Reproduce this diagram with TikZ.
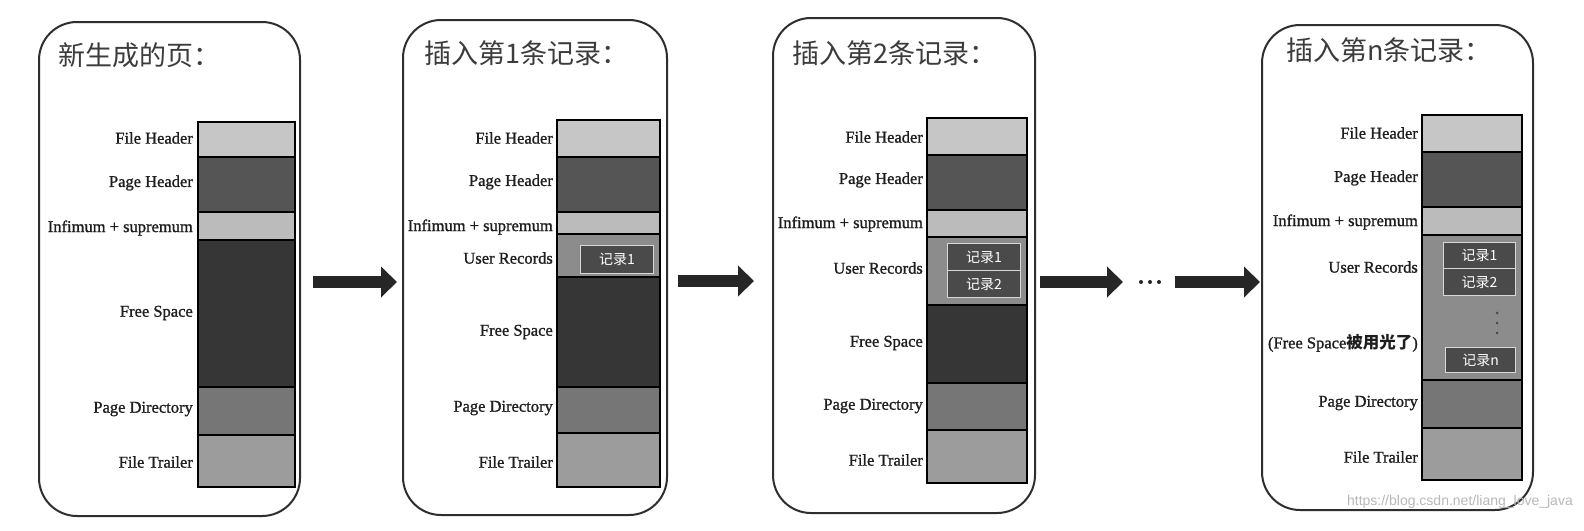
\documentclass[tikz,border=0pt]{standalone}
\usepackage{fontspec}
\setmainfont{Liberation Serif}
\newfontfamily\labfont[FakeBold=1.2]{Liberation Serif}
\newfontfamily\cjk{Noto Sans CJK SC}
\newfontfamily\wmfont{Liberation Sans}
\usetikzlibrary{arrows.meta}
\definecolor{fhc}{HTML}{C6C6C6}
\definecolor{phc}{HTML}{555555}
\definecolor{infc}{HTML}{BBBBBB}
\definecolor{freec}{HTML}{363636}
\definecolor{urc}{HTML}{8C8C8C}
\definecolor{pdc}{HTML}{767676}
\definecolor{ftc}{HTML}{9C9C9C}
\definecolor{recf}{HTML}{4A4A4A}
\definecolor{recb}{HTML}{D8D8D8}
\definecolor{panelc}{HTML}{2E2E2E}
\definecolor{labc}{HTML}{1E1E1E}
\definecolor{ttlc}{HTML}{3C3C3C}
\definecolor{arrc}{HTML}{262626}
\begin{document}
\begin{tikzpicture}[x=1pt,y=-1pt,
  panel/.style={draw=panelc, line width=2pt, rounded corners=38pt},
  sect/.style={draw=black, line width=1.6pt},
  lab/.style={anchor=east, inner sep=0pt, text=labc, font=\labfont\fontsize{16.5}{18}\selectfont},
  ttl/.style={anchor=west, inner sep=0pt, text=ttlc, font=\cjk\fontsize{27}{30}\selectfont},
  rec/.style={draw=recb, line width=1.2pt, fill=recf, text=white, font=\cjk\fontsize{14}{16}\selectfont, inner sep=0pt, anchor=north west},
  bigarrow/.style={draw=arrc, line width=12pt, -{Triangle[length=16pt,width=30pt]}},
  dotc/.style={fill=recf, draw=none}]
\useasboundingbox (0,0) rectangle (1584,530);
\fill[white] (0,0) rectangle (1584,530);

% ---------- Panel 1 ----------
\draw[panel] (39,22) rectangle (300,516);
\node[ttl] (t1) at (58,55) {新生成的页：};
\draw[sect, fill=fhc]   (198,122) rectangle (295,157);
\draw[sect, fill=phc]   (198,157) rectangle (295,212);
\draw[sect, fill=infc]  (198,212) rectangle (295,240);
\draw[sect, fill=freec] (198,240) rectangle (295,387);
\draw[sect, fill=pdc]   (198,387) rectangle (295,435);
\draw[sect, fill=ftc]   (198,435) rectangle (295,487);
\node[lab] (l1a) at (193,138) {File Header};
\node[lab] (l1b) at (193,183) {Page Header};
\node[lab] (l1c) at (193,228) {Infimum + supremum};
\node[lab] (l1d) at (193,313) {Free Space};
\node[lab] (l1e) at (193,409) {Page Directory};
\node[lab] (l1f) at (193,462) {File Trailer};

% ---------- Panel 2 ----------
\draw[panel] (403,20) rectangle (667,515);
\node[ttl] (t2) at (424,53) {插入第1条记录：};
\draw[sect, fill=fhc]   (557,120) rectangle (660,157);
\draw[sect, fill=phc]   (557,157) rectangle (660,212);
\draw[sect, fill=infc]  (557,212) rectangle (660,234);
\draw[sect, fill=urc]   (557,234) rectangle (660,277);
\draw[sect, fill=freec] (557,277) rectangle (660,387);
\draw[sect, fill=pdc]   (557,387) rectangle (660,433);
\draw[sect, fill=ftc]   (557,433) rectangle (660,487);
\node[rec, minimum width=73pt, minimum height=28pt] (r21) at (580,245) {记录1};
\node[lab] (l2a) at (553,138) {File Header};
\node[lab] (l2b) at (553,182) {Page Header};
\node[lab] (l2c) at (553,227) {Infimum + supremum};
\node[lab] (l2u) at (553,258) {User Records};
\node[lab] (l2d) at (553,332) {Free Space};
\node[lab] (l2e) at (553,408) {Page Directory};
\node[lab] (l2f) at (553,462) {File Trailer};

% ---------- Panel 3 ----------
\draw[panel] (773,18) rectangle (1035,513);
\node[ttl] (t3) at (792,53) {插入第2条记录：};
\draw[sect, fill=fhc]   (927,118) rectangle (1027,155);
\draw[sect, fill=phc]   (927,155) rectangle (1027,210);
\draw[sect, fill=infc]  (927,210) rectangle (1027,237);
\draw[sect, fill=urc]   (927,237) rectangle (1027,305);
\draw[sect, fill=freec] (927,305) rectangle (1027,383);
\draw[sect, fill=pdc]   (927,383) rectangle (1027,430);
\draw[sect, fill=ftc]   (927,430) rectangle (1027,483);
\node[rec, minimum width=73pt, minimum height=27pt] (r31) at (947,243) {记录1};
\node[rec, minimum width=73pt, minimum height=27pt] (r32) at (947,270) {记录2};
\node[lab] (l3a) at (923,137) {File Header};
\node[lab] (l3b) at (923,180) {Page Header};
\node[lab] (l3c) at (923,224) {Infimum + supremum};
\node[lab] (l3u) at (923,268) {User Records};
\node[lab] (l3d) at (923,343) {Free Space};
\node[lab] (l3e) at (923,406) {Page Directory};
\node[lab] (l3f) at (923,460) {File Trailer};

% ---------- Panel 4 ----------
\draw[panel] (1262,25) rectangle (1533,510);
\node[ttl] (t4) at (1286,50) {插入第n条记录：};
\draw[sect, fill=fhc]   (1422,115) rectangle (1522,152);
\draw[sect, fill=phc]   (1422,152) rectangle (1522,207);
\draw[sect, fill=infc]  (1422,207) rectangle (1522,235);
\draw[sect, fill=urc]   (1422,235) rectangle (1522,380);
\draw[sect, fill=pdc]   (1422,380) rectangle (1522,428);
\draw[sect, fill=ftc]   (1422,428) rectangle (1522,480);
\node[rec, minimum width=72pt, minimum height=26pt] (r41) at (1443,242) {记录1};
\node[rec, minimum width=72pt, minimum height=27pt] (r42) at (1443,268) {记录2};
\fill[dotc] (1497,313) circle (1.5);
\fill[dotc] (1497,323) circle (1.5);
\fill[dotc] (1497,333) circle (1.5);
\node[rec, minimum width=70pt, minimum height=25pt] (r4n) at (1445,347) {记录n};
\node[lab] (l4a) at (1418,133) {File Header};
\node[lab] (l4b) at (1418,178) {Page Header};
\node[lab] (l4c) at (1418,222) {Infimum + supremum};
\node[lab] (l4u) at (1418,267) {User Records};
\node[lab] (l4d) at (1418,343) {(Free Space{\cjk\bfseries 被用光了})};
\node[lab] (l4e) at (1418,403) {Page Directory};
\node[lab] (l4f) at (1418,457) {File Trailer};

% ---------- Arrows ----------
\coordinate (a1s) at (313,282); \coordinate (a1e) at (397,282);
\coordinate (a2s) at (678,281); \coordinate (a2e) at (754,281);
\coordinate (a3s) at (1040,282); \coordinate (a3e) at (1123,282);
\coordinate (a4s) at (1175,282); \coordinate (a4e) at (1260,282);
\draw[bigarrow] (a1s) -- (a1e);
\draw[bigarrow] (a2s) -- (a2e);
\draw[bigarrow] (a3s) -- (a3e);
\draw[bigarrow] (a4s) -- (a4e);
\fill[arrc] (1141,282) circle (2);
\fill[arrc] (1150,282) circle (2);
\fill[arrc] (1159,282) circle (2);

% ---------- Watermark ----------
\node[anchor=east, inner sep=0pt, text=black!28, font=\wmfont\fontsize{14}{16}\selectfont] (wm) at (1573,502) {https://blog.csdn.net/liang\_love\_java};
\end{tikzpicture}
\end{document}
